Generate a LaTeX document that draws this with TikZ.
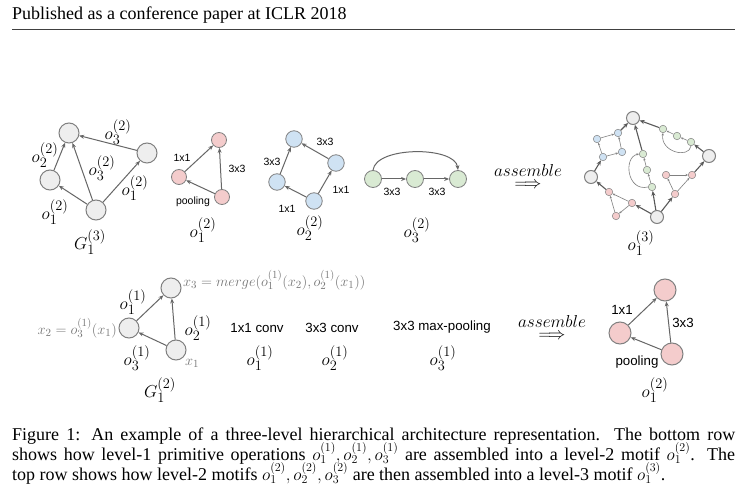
\documentclass[tikz,border=0pt]{standalone}
\usepackage{fontspec}
\setmainfont{Liberation Serif}
\setsansfont{Liberation Sans}
\usetikzlibrary{arrows.meta}
\definecolor{ngray}{HTML}{EEEEEE}
\definecolor{nedge}{HTML}{808080}
\definecolor{npink}{HTML}{F4CCCC}
\definecolor{nblue}{HTML}{CFE2F3}
\definecolor{ngreen}{HTML}{D9EAD3}
\definecolor{ecol}{HTML}{666666}
\definecolor{ftxt}{HTML}{777777}
\tikzset{
  nd/.style={circle, draw=nedge, inner sep=0pt},
  bign/.style={nd, fill=ngray, line width=1pt, minimum size=20pt},
  pnode/.style={nd, fill=npink, line width=0.8pt, minimum size=15pt},
  bnode/.style={nd, fill=nblue, line width=0.8pt, minimum size=16.5pt},
  cnode/.style={nd, fill=ngreen, line width=0.8pt, minimum size=17pt},
  epnode/.style={nd, fill=npink, line width=1pt, minimum size=22pt},
  abig/.style={nd, fill=ngray, line width=1pt, minimum size=13pt},
  apink/.style={nd, fill=npink, line width=0.5pt, minimum size=7.5pt},
  ablue/.style={nd, fill=nblue, line width=0.5pt, minimum size=7.5pt},
  agreen/.style={nd, fill=ngreen, line width=0.5pt, minimum size=7.5pt},
  edge/.style={draw=ecol, line width=1pt, -{Stealth[length=5pt,width=4pt]}},
  aedge/.style={draw=nedge, line width=0.6pt, -{Stealth[length=2.5pt,width=2.2pt]}},
  athick/.style={draw=black!65, line width=1.1pt, -{Stealth[length=5pt,width=4.2pt]}},
  mlab/.style={font=\fontsize{19}{19}\selectfont, inner sep=0pt},
  slab/.style={font=\sffamily\fontsize{10.5}{12}\selectfont, inner sep=0pt},
  blab/.style={font=\sffamily\fontsize{13.3}{15}\selectfont, inner sep=0pt},
  flab/.style={font=\fontsize{15}{15}\selectfont, inner sep=0pt, text=ftxt},
  alab/.style={font=\fontsize{18}{18}\selectfont, inner sep=0pt, align=center},
  txt/.style={font=\fontsize{18}{20}\selectfont, inner sep=0pt, anchor=base west}
}
\begin{document}
\begin{tikzpicture}[x=1pt,y=-1pt]
\useasboundingbox[fill=white] (0,0) rectangle (744,502);

% header
\node[txt] (hdr) at (12,20) {Published as a conference paper at ICLR 2018};
\coordinate (hl) at (12,29);
\coordinate (hr) at (735,29);
\draw[line width=0.8pt, draw=black!75] (hl) -- (hr);

% ---- top row: G_1^(3)
\node[bign] (a1) at (69,133) {};
\node[bign] (a2) at (147,153) {};
\node[bign] (a3) at (50,180) {};
\node[bign] (a4) at (96,210) {};
\draw[edge] (a4) -- (a3);
\draw[edge] (a3) -- (a1);
\draw[edge] (a4) -- (a1);
\draw[edge] (a4) -- (a2);
\draw[edge] (a2) -- (a1);
\node[mlab] (la1) at (118,132) {$o_3^{(2)}$};
\node[mlab] (la2) at (45,155) {$o_2^{(2)}$};
\node[mlab] (la3) at (102,168) {$o_3^{(2)}$};
\node[mlab] (la4) at (135,188) {$o_1^{(2)}$};
\node[mlab] (la5) at (55,212) {$o_1^{(2)}$};
\node[mlab] (la6) at (90,242) {$G_1^{(3)}$};

% ---- pink motif (top)
\node[pnode] (p1) at (219,140) {};
\node[pnode] (p2) at (179,177) {};
\node[pnode] (p3) at (222,197) {};
\draw[edge] (p2) -- (p1);
\draw[edge] (p3) -- (p1);
\draw[edge] (p3) -- (p2);
\node[slab] (lp1) at (182,158) {1x1};
\node[slab] (lp2) at (237,169) {3x3};
\node[slab] (lp3) at (193,202) {pooling};
\node[mlab] (lp4) at (203,230) {$o_1^{(2)}$};

% ---- blue motif
\node[bnode] (b1) at (294,139) {};
\node[bnode] (b2) at (277,182) {};
\node[bnode] (b3) at (336,163) {};
\node[bnode] (b4) at (314,201) {};
\draw[edge] (b2) -- (b1);
\draw[edge] (b3) -- (b1);
\draw[edge] (b4) -- (b2);
\draw[edge] (b4) -- (b3);
\node[slab] (lb1) at (272,162) {3x3};
\node[slab] (lb2) at (325,142) {3x3};
\node[slab] (lb3) at (287,209) {1x1};
\node[slab] (lb4) at (341,190) {1x1};
\node[mlab] (lb5) at (310,228) {$o_2^{(2)}$};

% ---- green motif
\node[cnode] (c1) at (373,179) {};
\node[cnode] (c2) at (415,179) {};
\node[cnode] (c3) at (458,179) {};
\draw[edge] (c1) -- (c2);
\draw[edge] (c2) -- (c3);
\draw[edge] (c1.north) .. controls (376,146) and (455,146) .. (c3.north);
\node[slab] (lc1) at (392,192) {3x3};
\node[slab] (lc2) at (437,192) {3x3};
\node[mlab] (lc3) at (417,230) {$o_3^{(2)}$};

% ---- assemble (top)
\node[alab] (as1) at (528,177) {$assemble$\\[-6pt]$\Longrightarrow$};

% ---- assembled level-3 motif
\node[abig] (T) at (633,118) {};
\node[abig] (R) at (709,156) {};
\node[abig] (L) at (591,177) {};
\node[abig] (B) at (657,217) {};
% blue
\node[ablue] (bt) at (618,133) {};
\node[ablue] (bl) at (597,139) {};
\node[ablue] (br) at (622,152) {};
\node[ablue] (bb) at (603,157) {};
\draw[athick] (L) -- (bb);
\draw[aedge] (bb) -- (bl);
\draw[aedge] (bb) -- (br);
\draw[aedge] (bl) -- (bt);
\draw[aedge] (br) -- (bt);
\draw[athick] (bt) -- (T);
% green vertical
\node[agreen] (g1) at (652,187) {};
\node[agreen] (g2) at (647,170) {};
\node[agreen] (g3) at (643,154) {};
\draw[athick] (B) -- (g1);
\draw[aedge] (g1) -- (g2);
\draw[aedge] (g2) -- (g3);
\draw[athick] (g3) -- (T);
\draw[aedge] (g1.west) .. controls (627,192) and (623,157) .. (g3.west);
% green top-right
\node[agreen] (h1) at (691,142) {};
\node[agreen] (h2) at (677,136) {};
\node[agreen] (h3) at (663,129) {};
\draw[athick] (R) -- (h1);
\draw[aedge] (h1) -- (h2);
\draw[aedge] (h2) -- (h3);
\draw[athick] (h3) -- (T);
\draw[aedge] (h1.south) .. controls (689,159) and (660,152) .. (h3.south);
% pink bottom-left
\node[apink] (pa) at (632,203) {};
\node[apink] (pb) at (609,192) {};
\node[apink] (pc) at (616,216) {};
\draw[athick] (B) -- (pa);
\draw[aedge] (pa) -- (pb);
\draw[aedge] (pa) -- (pc);
\draw[aedge] (pc) -- (pb);
\draw[athick] (pb) -- (L);
% pink right
\node[apink] (qa) at (675,194) {};
\node[apink] (qb) at (666,175) {};
\node[apink] (qc) at (692,175) {};
\draw[athick] (B) -- (qa);
\draw[aedge] (qa) -- (qc);
\draw[aedge] (qa) -- (qb);
\draw[aedge] (qb) -- (qc);
\draw[athick] (qc) -- (R);
\node[mlab] (lo3) at (641,243) {$o_1^{(3)}$};

% ---- bottom row: G_1^(2)
\node[bign] (d1) at (171,288) {};
\node[bign] (d2) at (129,328) {};
\node[bign] (d3) at (176,350) {};
\draw[edge] (d2) -- (d1);
\draw[edge] (d3) -- (d1);
\draw[edge] (d3) -- (d2);
\node[mlab] (ld1) at (133,302) {$o_1^{(1)}$};
\node[mlab] (ld2) at (198,328) {$o_2^{(1)}$};
\node[mlab] (ld3) at (137,358) {$o_3^{(1)}$};
\node[flab] (ld4) at (192,363) {$x_1$};
\node[mlab] (ld5) at (160,390) {$G_1^{(2)}$};
\node[flab, anchor=west] (ld6) at (183,280) {$x_3 = merge(o_1^{(1)}(x_2), o_2^{(1)}(x_1))$};
\node[flab, anchor=east] (ld7) at (117,328) {$x_2 = o_3^{(1)}(x_1)$};

\node[blab] (op1) at (257,328) {1x1 conv};
\node[mlab] (lo1) at (260,358) {$o_1^{(1)}$};
\node[blab] (op2) at (332,328) {3x3 conv};
\node[mlab] (lo2) at (335,358) {$o_2^{(1)}$};
\node[blab] (op3) at (442,327) {3x3 max-pooling};
\node[mlab] (lo4) at (443,358) {$o_3^{(1)}$};

% ---- assemble (bottom)
\node[alab] (as2) at (552,328) {$assemble$\\[-6pt]$\Longrightarrow$};

% ---- pink motif (bottom)
\node[epnode] (e1) at (665,290) {};
\node[epnode] (e2) at (620,333) {};
\node[epnode] (e3) at (672,354) {};
\draw[edge] (e2) -- (e1);
\draw[edge] (e3) -- (e1);
\draw[edge] (e3) -- (e2);
\node[blab] (le1) at (622,310) {1x1};
\node[blab] (le2) at (683,323) {3x3};
\node[blab] (le3) at (637,362) {pooling};
\node[mlab] (le4) at (655,390) {$o_1^{(2)}$};

% ---- caption
\node[txt] (cap1) at (12,440) {\makebox[723pt][s]{Figure 1: An example of a three-level hierarchical architecture representation.\ \ The bottom row}};
\node[txt] (cap2) at (12,460) {\makebox[723pt][s]{shows how level-1 primitive operations $o_1^{(1)}, o_2^{(1)}, o_3^{(1)}$ are assembled into a level-2 motif $o_1^{(2)}$. The}};
\node[txt] (cap3) at (12,480) {top row shows how level-2 motifs $o_1^{(2)}, o_2^{(2)}, o_3^{(2)}$ are then assembled into a level-3 motif $o_1^{(3)}$.};
\end{tikzpicture}
\end{document}
